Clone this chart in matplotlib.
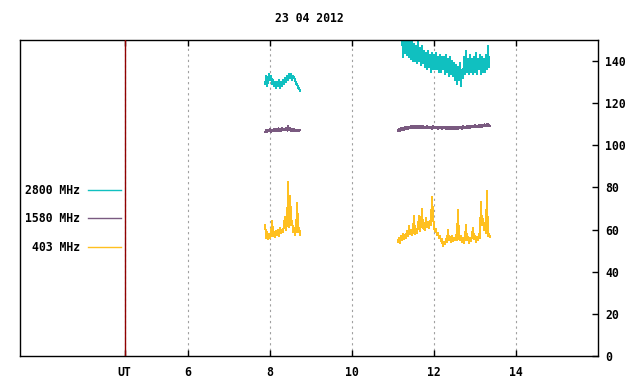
import matplotlib
matplotlib.use("Agg")
import matplotlib.pyplot as plt
import numpy as np

plt.rcParams["font.family"] = ["DejaVu Sans Mono"]
plt.rcParams["font.weight"] = "bold"
plt.rcParams["font.size"] = 8.3

TITLE = "23 04 2012"
STEP = 1 / 41  # hours per sample

# 2800 MHz (two observing windows)
t2800_a = 7.88
f2800_a = [129, 133, 128, 132, 134, 131, 133, 129, 131, 128, 130, 127,
           130, 128, 131, 127, 130, 128, 131, 129, 132, 130, 133, 131,
           134, 132, 134, 131, 133, 132, 131, 129, 129, 127, 127, 126]
t2800_b = 11.22
f2800_b = [152, 142, 153, 144, 151, 143, 150, 142, 149, 141, 150, 140,
           148, 140, 147, 139, 149, 140, 146, 138, 147, 139,
           145, 137, 144, 136, 145, 137, 143, 135, 144, 136,
           143, 136, 144, 136, 142, 135, 143, 135, 142, 136,
           142, 134, 143, 135, 141, 133, 142, 134, 140, 133,
           139, 131, 138, 129, 137, 131, 139, 128, 136, 132,
           142, 134, 145, 135, 141, 134, 143, 135, 141, 134,
           142, 135, 144, 134, 141, 136, 143, 134, 142, 135,
           141, 135, 143, 136, 147, 137]

# 1580 MHz
t1580_a = 7.88
f1580_a = [106.3, 107.3, 106.2, 107.2, 106.6, 107.6, 106.4, 107.5, 106.8,
           107.8, 106.7, 107.7, 106.9, 108.0, 107.0, 107.8, 106.8, 108.1,
           107.1, 107.9, 107.2, 108.2, 107.0, 109.0, 107.3, 108.0, 106.9,
           107.8, 106.8, 107.6, 106.7, 107.5, 106.6, 107.4, 106.7, 107.3]
t1580_b = 11.12
f1580_b = [106.8, 107.8, 107.0, 108.1, 107.2, 108.2, 107.4, 108.5, 107.6, 108.7,
           107.8, 108.9, 108.1, 109.2, 108.2, 109.1, 108.3, 109.4, 108.4, 109.1,
           108.2, 109.2, 108.3, 109.0, 108.0, 109.1, 108.2, 108.9, 108.1, 109.0,
           108.0, 108.9, 108.1, 108.8, 107.9, 109.0, 108.1, 108.8, 108.0, 108.9,
           107.9, 108.8, 108.0, 108.9, 107.8, 108.7, 108.0, 108.8, 107.9, 108.7,
           107.8, 108.8, 107.9, 108.7, 107.7, 108.6, 107.9, 108.8, 107.8, 108.7,
           107.9, 108.8, 108.0, 108.9, 107.9, 109.0, 108.1, 108.9, 108.2, 109.1,
           108.3, 109.2, 108.4, 109.3, 108.5, 109.4, 108.6, 109.5, 108.7, 109.4,
           108.7, 109.6, 108.8, 109.7, 108.9, 109.8, 109.0, 109.9, 109.1, 110.0,
           109.2, 109.9, 109.3]

# 403 MHz
t403_a = 7.88
f403_a = [62, 56, 59, 55.5, 58, 56, 58.5, 64, 57, 59, 56.5, 59.5,
          57.5, 60, 57, 61, 58.5, 60, 59, 63, 66, 60, 63.5, 82.5,
          61, 76, 62, 64, 59, 61, 57.5, 60, 72.5, 59, 61, 57.5]
t403_b = 11.12
f403_b = [54, 56, 53.5, 57, 55, 58, 55.5, 57.5, 56, 59.5,
          57, 61.5, 58, 60, 57.5, 59, 66.5, 58, 60.5, 58.5,
          61, 66.5, 59.5, 62, 70, 60.5, 63, 60, 65.5, 61,
          63.5, 60.5, 64, 62, 75.5, 67, 61, 59.5, 60.5, 57.5,
          58.5, 56, 57, 54.5, 55.5, 52, 54, 53, 55.5, 54,
          60, 55, 56.5, 54, 57, 54.5, 56, 55, 57.5, 55,
          69.5, 56, 55, 57, 54, 56, 53.5, 55.5, 62, 55,
          56.5, 53.5, 56, 54.5, 57, 61, 55.5, 57, 54, 56.5,
          55, 58, 56, 73, 62, 65, 60, 63, 58.5, 78.5,
          57, 58, 56.5]

xticks = [4.45, 6, 8, 10, 12, 14]
xticklabels = ["UT", "6", "8", "10", "12", "14"]
yticks = [0, 20, 40, 60, 80, 100, 120, 140]


def series(t_a, v_a, t_b, v_b):
    ta = t_a + np.arange(len(v_a)) * STEP
    tb = t_b + np.arange(len(v_b)) * STEP
    t = np.concatenate([ta, [np.nan], tb])
    v = np.concatenate([v_a, [np.nan], v_b])
    return t, v


fig = plt.figure(figsize=(6.4, 3.84), dpi=100)
ax = fig.add_axes([20 / 640, 28 / 384, 578 / 640, 316 / 384])

ax.set_xlim(1.9, 16.0)
ax.set_ylim(0, 150)

ax.grid(axis="x", color="#a0a0a0", linestyle=(0, (2, 3)), linewidth=0.8)
ax.axvline(xticks[0], color="#900000", linewidth=1.0, zorder=3)

line_kw = dict(linewidth=0.72, antialiased=False)
l2800, = ax.plot(*series(t2800_a, f2800_a, t2800_b, f2800_b),
                 color="#10c0c0", label="2800 MHz", **line_kw)
l1580, = ax.plot(*series(t1580_a, f1580_a, t1580_b, f1580_b),
                 color="#7a5a80", label="1580 MHz", **line_kw)
l403, = ax.plot(*series(t403_a, f403_a, t403_b, f403_b),
                color="#ffc020", label="403 MHz", **line_kw)

ax.set_xticks(xticks)
ax.set_xticklabels(xticklabels)
ax.tick_params(axis="x", which="both", direction="in", length=4, width=1,
               top=True, bottom=True, pad=7)
ax.yaxis.tick_right()
ax.set_yticks(yticks)
ax.tick_params(axis="y", direction="in", length=4, width=1, pad=5,
               left=False, right=True)

for s in ax.spines.values():
    s.set_linewidth(1)
    s.set_color("black")

ax.set_title(TITLE, pad=13, fontsize=8.3, fontweight="bold")

leg = ax.legend(handles=[l2800, l1580, l403], markerfirst=False, frameon=False,
                loc="center right", bbox_to_anchor=(0.185, 0.434), borderpad=0,
                handlelength=2.9, handletextpad=0.7, labelspacing=1.35)
for h in leg.get_lines():
    h.set_antialiased(True)
    h.set_linewidth(1.0)

fig.savefig("out.png", dpi=100)
